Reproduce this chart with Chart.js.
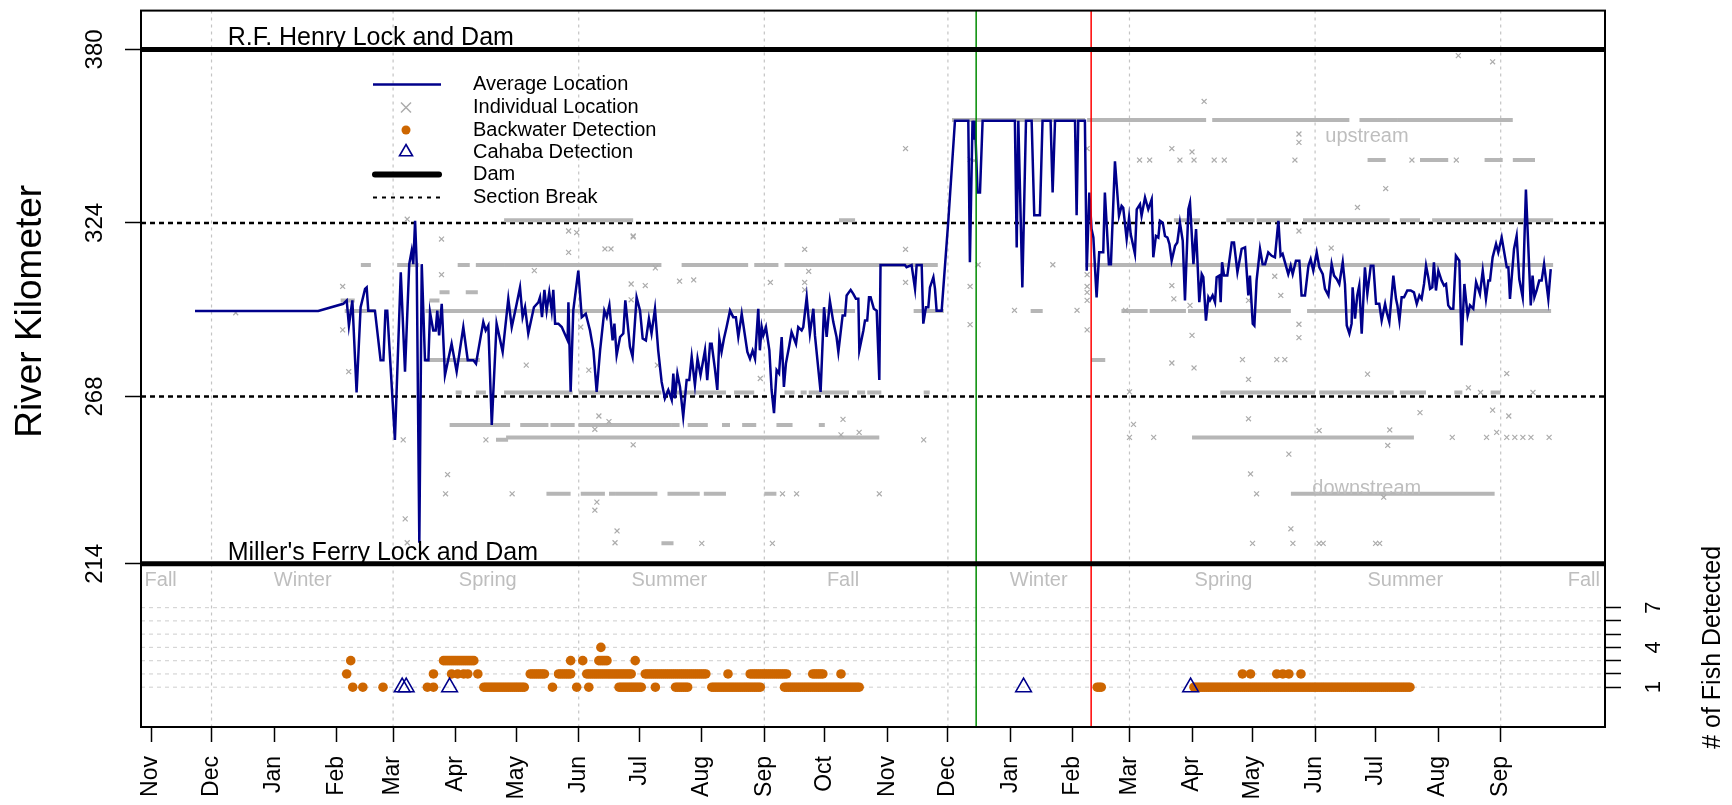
<!DOCTYPE html>
<html>
<head>
<meta charset="utf-8">
<script src="https://cdn.jsdelivr.net/npm/chart.js@4.4.0/dist/chart.umd.min.js"></script>
<style>
  html, body { margin: 0; padding: 0; background: #fff; }
</style>
</head>
<body>
<canvas id="fishChart" width="1732" height="805"></canvas>
<script>
'use strict';

// x values are days since 1 Nov of the first year
const monthTickDays = [0, 30, 61, 92, 120, 151, 181, 212, 242, 273, 304, 334, 365,
  395, 426, 457, 485, 516, 546, 577, 607, 638, 669];
const monthTickLabels = ['Nov', 'Dec', 'Jan', 'Feb', 'Mar', 'Apr', 'May', 'Jun', 'Jul', 'Aug', 'Sep', 'Oct', 'Nov',
  'Dec', 'Jan', 'Feb', 'Mar', 'Apr', 'May', 'Jun', 'Jul', 'Aug', 'Sep'];
const seasonGridDays = [30, 120, 212, 304, 395, 485, 577, 669];
const kmTicks = [214, 268, 324, 380];
const countTicks = [1, 2, 3, 4, 5, 6, 7];
const countLabels = [1, 4, 7];
const damKm = [380, 214];
const damNames = ['R.F. Henry Lock and Dam', "Miller's Ferry Lock and Dam"];
const sectionKm = [324, 268];
const greenLineDay = 409;
const redLineDay = 466;
const seasonNames = ['Fall', 'Winter', 'Spring', 'Summer', 'Fall', 'Winter', 'Spring', 'Summer', 'Fall'];
const seasonDays = [4.8, 75.2, 166.9, 256.9, 343.0, 440.0, 531.6, 621.7, 710.2];

// average daily location [day, km]
const avgLocation = [
  [21.8,295.6],[82.9,295.6],[95.3,297.9],[97.0,299.0],[98.1,290.9],[99.8,299.0],[101.9,269.3],[103.9,296.8],
  [106.1,302.7],[106.9,303.2],[107.7,295.7],[111.0,295.7],[113.8,279.7],[115.2,279.7],[116.2,295.7],[117.1,295.7],
  [120.9,254.0],[123.8,308.1],[125.9,276.0],[128.0,310.7],[129.2,315.0],[130.0,310.7],[130.9,324.7],[131.7,310.7],
  [133.0,220.8],[134.2,310.7],[135.8,279.7],[137.5,279.7],[138.3,295.2],[139.9,289.3],[141.1,289.3],[141.9,295.7],
  [142.8,287.7],[144.1,297.9],[145.7,274.9],[149.0,285.0],[151.5,276.0],[154.8,290.4],[157.0,279.7],[159.8,279.7],
  [161.1,278.6],[163.1,286.1],[164.7,292.0],[165.9,289.3],[167.2,290.9],[168.9,258.8],[171.3,291.5],[174.3,282.4],
  [177.1,299.5],[178.8,290.4],[180.9,296.8],[182.9,303.2],[184.2,293.6],[185.4,296.8],[187.0,288.3],[189.8,296.8],
  [192.0,298.4],[192.8,300.0],[193.8,293.6],[195.0,302.4],[196.1,295.7],[197.4,301.6],[198.6,295.7],[199.4,302.4],
  [200.3,291.5],[201.9,291.5],[203.6,290.4],[206.5,286.1],[206.9,298.4],[208.0,269.5],[209.3,295.7],[211.8,308.6],
  [213.5,293.6],[215.5,294.7],[217.6,289.3],[219.3,282.9],[220.9,269.5],[222.6,282.9],[224.7,295.7],[225.9,293.6],
  [227.2,297.4],[228.8,286.1],[229.7,291.5],[230.8,281.3],[232.5,287.2],[234.1,288.3],[235.1,299.0],[237.4,284.0],
  [238.7,280.8],[240.7,300.0],[242.4,295.7],[243.7,286.7],[245.3,286.1],[246.8,293.1],[248.1,288.3],[249.8,296.3],
  [251.4,282.9],[253.1,272.7],[254.7,267.4],[256.4,270.1],[258.1,266.9],[258.9,275.4],[259.7,267.4],[260.9,275.4],
  [262.2,271.1],[263.8,261.5],[265.5,273.3],[266.8,273.3],[268.0,280.8],[269.6,271.7],[270.9,280.2],[272.4,274.9],
  [274.6,282.9],[275.7,273.3],[277.1,285.0],[277.9,285.0],[279.5,277.0],[280.7,270.1],[281.7,286.7],[282.8,282.4],
  [284.0,286.7],[285.3,290.4],[287.0,295.7],[288.6,293.6],[289.9,293.6],[291.1,287.2],[292.8,294.7],[295.6,282.4],
  [296.9,280.2],[298.2,282.8],[299.4,280.2],[301.0,296.3],[301.8,282.9],[302.7,290.4],[303.5,287.7],[304.8,290.4],
  [306.5,282.9],[307.6,270.1],[308.8,262.6],[310.1,276.5],[311.3,275.4],[312.6,287.2],[313.7,271.1],[314.7,278.6],
  [316.4,284.5],[317.5,288.8],[319.7,285.0],[320.8,290.4],[322.5,289.3],[323.3,290.4],[325.0,300.0],[326.6,288.3],
  [328.3,296.3],[329.1,287.7],[331.9,269.5],[333.6,296.8],[334.9,287.2],[336.5,298.8],[338.2,292.0],[339.8,287.2],
  [340.7,282.4],[342.8,294.1],[344.0,294.1],[344.8,300.6],[346.8,302.4],[348.1,301.1],[349.4,299.5],[350.6,299.5],
  [351.1,282.9],[353.1,289.3],[353.9,292.5],[355.0,292.5],[355.9,300.0],[356.7,300.0],[358.3,296.3],[359.7,295.7],
  [361.0,273.3],[361.6,310.4],[373.7,310.4],[374.5,309.7],[377.0,310.4],[378.7,302.7],[379.5,310.4],[382.0,310.4],
  [382.8,291.5],[384.1,296.8],[385.3,296.8],[386.1,303.2],[387.8,306.5],[388.6,302.7],[389.4,295.7],[391.9,295.7],
  [395.2,324.7],[398.5,357.0],[405.1,357.0],[405.9,311.3],[407.2,357.0],[407.6,350.9],[408.4,357.0],[409.7,333.8],
  [410.9,333.8],[412.2,357.0],[428.2,357.0],[429.1,316.1],[429.9,357.0],[431.9,303.2],[433.7,357.0],[436.5,357.0],
  [437.8,326.5],[440.6,326.5],[441.9,357.0],[445.9,357.0],[446.9,333.8],[448.1,357.0],[458.0,357.0],[458.8,326.5],
  [459.6,357.0],[462.9,357.0],[463.8,308.6],[465.1,333.8],[466.2,322.0],[467.1,319.3],[468.7,300.0],[470.0,314.5],
  [472.0,314.5],[472.8,333.8],[474.8,310.7],[475.8,310.7],[477.8,343.9],[479.8,326.3],[481.1,329.5],[481.9,328.9],
  [483.6,318.8],[484.8,325.7],[485.6,320.4],[487.7,314.0],[488.6,328.4],[490.2,330.0],[491.0,326.3],[492.7,332.2],
  [494.3,328.4],[496.0,331.6],[496.8,312.9],[498.1,319.8],[499.3,319.3],[500.1,324.7],[501.5,324.1],[502.6,319.8],
  [503.8,319.3],[504.8,317.2],[505.9,311.8],[507.6,316.6],[508.7,317.7],[510.0,324.1],[511.4,318.2],[512.5,299.0],
  [514.2,328.4],[515.0,330.5],[516.7,310.7],[518.0,322.0],[519.6,298.4],[520.8,307.5],[521.6,306.5],[522.9,292.5],
  [524.1,300.0],[524.9,299.0],[526.2,300.6],[527.4,298.4],[528.2,306.5],[529.5,307.0],[530.2,298.4],[530.9,311.3],
  [531.9,307.0],[533.5,307.0],[535.7,317.7],[536.8,317.7],[538.5,308.1],[540.6,315.6],[542.3,316.1],[543.9,300.6],
  [544.7,307.0],[546.1,291.5],[546.9,290.9],[548.0,305.4],[549.7,315.6],[551.0,310.7],[552.2,310.7],[553.8,314.5],
  [555.5,313.4],[557.1,312.9],[558.8,324.7],[559.9,313.4],[560.9,314.0],[563.7,307.5],[564.9,310.2],[565.9,307.5],
  [567.5,311.8],[569.2,311.8],[570.3,300.6],[572.0,300.6],[573.7,310.2],[574.8,312.3],[576.1,308.6],[577.8,314.5],
  [579.1,309.7],[580.8,307.5],[581.9,302.7],[583.6,300.6],[585.2,310.7],[586.4,307.0],[587.7,305.9],[589.0,304.3],
  [590.7,311.3],[591.8,304.3],[592.7,290.9],[594.0,288.3],[595.1,291.5],[595.6,303.2],[596.8,293.1],[597.9,300.6],
  [598.9,303.8],[600.1,288.3],[601.7,309.7],[602.9,301.1],[604.6,310.2],[605.9,310.2],[607.2,297.9],[608.8,297.9],
  [610.0,292.5],[611.7,297.9],[612.5,295.2],[613.8,292.0],[615.8,307.0],[617.1,299.5],[617.8,297.4],[618.8,292.5],
  [619.9,300.0],[621.1,300.0],[622.7,302.2],[624.4,302.2],[626.0,301.6],[627.4,297.9],[628.7,300.6],[629.8,299.5],
  [631.0,304.3],[632.0,310.2],[633.1,306.5],[634.0,302.7],[635.1,303.2],[635.9,311.3],[636.9,302.2],[638.1,308.6],
  [639.7,305.4],[640.9,303.8],[641.9,304.3],[643.0,297.4],[644.2,296.3],[645.5,296.3],[646.8,313.4],[648.5,311.8],
  [649.6,284.5],[651.0,304.3],[652.6,294.1],[653.8,297.4],[655.4,296.3],[656.8,304.9],[657.9,302.7],[658.7,301.1],
  [660.1,308.6],[661.7,299.5],[662.9,305.4],[663.7,305.4],[665.0,312.9],[666.7,317.2],[667.8,314.5],[669.5,319.3],
  [672.0,309.7],[672.8,309.7],[673.6,299.5],[675.6,315.6],[676.9,319.8],[678.2,305.9],[679.9,300.0],[681.5,334.8],
  [683.9,297.4],[684.8,307.0],[685.7,300.0],[686.8,302.2],[688.1,305.4],[689.3,305.4],[690.5,310.7],[692.6,299.5],
  [693.8,309.1]
];

// runs of individual detections at one receiver: [km, first day, last day]
const grayBands = [
  [357.2,398,462],[357.2,465,512],[357.2,513,522],[357.2,527,593],[357.2,600,617],[357.2,619,674],
  [344.3,604,611],[344.3,630,642],[344.3,662,669],[344.3,676,685],
  [324.9,176,207],[324.9,209,238],[324.9,342,348],[324.9,508,519],[324.9,534,546],[324.9,549,564],
  [324.9,572,613],[324.9,620,628],[324.9,636,694],
  [310.4,105,108],[310.4,123,132],[310.4,153,157],[310.4,162,174],[310.4,176,252],[310.4,264,295],
  [310.4,300,310],[310.4,315,331],[310.4,332,389],[310.4,464,694],
  [301.6,144,147],[301.6,157,161],[299.0,95,100],[299.0,139,142],
  [295.6,97,110],[295.6,137,348],[295.6,379,392],[295.6,437,441],[295.6,482,493],[295.6,496,512],
  [295.6,515,564],[295.6,574,693],
  [279.8,137,162],[279.8,467,472],
  [269.3,152,153],[269.3,162,165],[269.3,176,208],[269.3,213,249],[269.3,251,252],[269.3,256,284],
  [269.3,290,298],[269.3,315,318],[269.3,323,324],[269.3,327,345],[269.3,351,353],[269.3,356,361],
  [269.3,384,385],[269.3,531,576],[269.3,580,591],[269.3,593,615],[269.3,620,625],[269.3,627,631],
  [269.3,647,649],[269.3,665,668],
  [258.8,149,177],[258.8,184,196],[258.8,199,209],[258.8,213,257],[258.8,259,261],[258.8,267,275],
  [258.8,284,286],[258.8,294,299],[258.8,311,317],[258.8,332,333],
  [254.8,177,360],[254.8,517,625],[254.0,172,176],
  [236.6,197,207],[236.6,214,224],[236.6,228,229],[236.6,231,250],[236.6,257,271],[236.6,275,284],
  [236.6,305,309],[236.6,566,665],
  [220.6,254,258]
];

// scattered individual detections [day, km]
const grayPoints = [
  [42,295],[95,303.5],[95,289.5],[98,276],[127,325.2],[125,254],[126,228.5],[127,220.8],[144,318.8],[144,307.3],
  [147,242.8],[146,236.6],[179,236.6],[190,308.6],[186,278.1],[166,254],[207,321.4],[211,320.9],[207,314.5],
  [225,315.6],[228,315.6],[239,319.5],[238,304.3],[238,299.2],[217,276.5],[213,290.4],[221,233.9],[220,231.3],
  [231,224.6],[230,220.8],[222,261.7],[227,259.9],[220,257.4],[239,252.4],
  [239,319.8],[250,309.5],[245,303.8],[262,305.2],[269,305.6],[251,278.1],[302,273.8],[324,315.5],[326,308.4],
  [324,304.8],[324,302.4],[307,304.8],[374,348],[374,315.5],[374,304.8],[343,260.6],[351,256.4],[342,255.6],
  [383,254],[406,344.5],[406,303.5],[406,291.2],[408,344.1],[410,310.5],[428,295.8],[447,310.5],[459,295.8],
  [464,348],[464,307.3],[464,303.5],[464,301.6],[464,299],[464,289.5],[483,295.8],[273,220.6],[308,220.6],
  [313,236.6],[320,236.6],[361,236.6],
  [522,363.2],[569,352.7],[569,350],[506,348],[516,346.9],[612,335.1],[598,329],[569,321.4],[585,315.9],
  [557,306.8],[560,300.6],[506,303.8],[507,299.5],[515,297.4],[544,299],[516,287.7],[569,291.3],[569,287],
  [506,278.8],[517,277.2],[541,279.9],[558,279.9],[562,279.9],[544,273.5],[603,275.2],[672,275.4],[485,269.5],
  [653,270.8],[544,260.8],[629,262.8],[665,263.6],[673,261.7],[487,259.0],[579,257],[614,257.2],[613,252.2],
  [667,256.4],[564,249.4],[545,243],[548,236.6],[611,235.5],[565,225.3],[546,220.6],[566,220.6],[579,220.6],
  [581,220.6],[607,220.6],[609,220.6],[648,378],[665,376],[485,254.8],[497,254.8],[645,254.8],[662,254.8],
  [672,254.8],[676,254.8],[680,254.8],[684,254.8],[693,254.8],[490,344.3],[495,344.3],[510,344.3],[517,344.3],
  [527,344.3],[532,344.3],[567,344.3],[625,344.3],[647,344.3],[659,269.3],[685,269.3]
];

// backwater detections: runs of consecutive days [count, first, last] and single days [count, day]
const backwaterRuns = [
  [1,165,185],[1,232,243],[1,260,266],[1,278,302],[1,314,351],[1,469,471],[1,517,624],
  [2,188,195],[2,202,208],[2,216,238],[2,245,275],[2,297,315],[2,328,333],
  [3,145,160],[3,222,226]
];
const backwaterSingles = [
  [1,100],[1,105],[1,115],[1,137],[1,140],[1,199],[1,211],[1,217],[1,250],
  [2,97],[2,140],[2,149],[2,152],[2,155],[2,157],[2,162],[2,286],[2,342],
  [3,99],[3,208],[3,214],[3,240],[4,223],
  [2,541],[2,545],[2,558],[2,561],[2,564],[2,570]
];
const cahabaDays = [124.5, 126.5, 148, 432.5, 515.3];
const cahabaCounts = [1, 1, 1, 1, 1];

const FONT = "'Liberation Sans', Arial, Helvetica, sans-serif";
const NAVY = '#00008b';
const ORANGE = '#cd6600';
const GRAY = '#acacac';
const BAND_GRAY = '#b6b6b6';
const LIGHT_TEXT = '#bebebe';

const bandData = [];
grayBands.forEach(([km, a, b]) => {
  bandData.push({x: a, y: km}, {x: b, y: km}, {x: b, y: null});
});
const bwData = [];
backwaterRuns.forEach(([c, a, b]) => {
  for (let d = a; d <= b; d++) bwData.push({x: d, y: c});
});
backwaterSingles.forEach(([c, d]) => bwData.push({x: d, y: c}));

function hLine(ctx, x1, x2, y) {
  ctx.beginPath(); ctx.moveTo(x1, y); ctx.lineTo(x2, y); ctx.stroke();
}
function vLine(ctx, x, y1, y2) {
  ctx.beginPath(); ctx.moveTo(x, y1); ctx.lineTo(x, y2); ctx.stroke();
}
function rotText(ctx, text, x, y, size, color) {
  ctx.save();
  ctx.translate(x, y);
  ctx.rotate(-Math.PI / 2);
  ctx.font = size + 'px ' + FONT;
  ctx.fillStyle = color;
  ctx.textAlign = 'center';
  ctx.textBaseline = 'middle';
  ctx.fillText(text, 0, 0);
  ctx.restore();
}

const riverDecor = {
  id: 'riverDecor',
  beforeDatasetsDraw(chart) {
    const {ctx, chartArea: a, scales: {x, y, y2}} = chart;
    ctx.save();
    ctx.lineWidth = 1.2;
    ctx.strokeStyle = '#c4c4c4';
    ctx.setLineDash([3, 4]);
    seasonGridDays.forEach(d => vLine(ctx, x.getPixelForValue(d), a.top, a.bottom));
    ctx.strokeStyle = '#d6d6d6';
    ctx.setLineDash([4, 4]);
    countTicks.forEach(c => hLine(ctx, a.left, a.right, y2.getPixelForValue(c)));
    ctx.strokeStyle = '#000';
    ctx.lineWidth = 2.5;
    ctx.setLineDash([5, 4]);
    sectionKm.forEach(k => hLine(ctx, a.left, a.right, y.getPixelForValue(k)));
    ctx.restore();
  },
  afterDatasetsDraw(chart) {
    const {ctx, chartArea: a, scales: {x, y, y2}} = chart;
    ctx.save();
    ctx.lineWidth = 1.5;
    ctx.strokeStyle = '#008b00';
    vLine(ctx, x.getPixelForValue(greenLineDay), a.top, a.bottom);
    ctx.strokeStyle = '#ff0000';
    vLine(ctx, x.getPixelForValue(redLineDay), a.top, a.bottom);

    // dams
    ctx.strokeStyle = '#000';
    ctx.lineWidth = 5;
    damKm.forEach(k => hLine(ctx, a.left, a.right, y.getPixelForValue(k)));

    // box
    ctx.lineWidth = 2;
    ctx.strokeRect(a.left, a.top, a.right - a.left, a.bottom - a.top);

    // dam names
    ctx.fillStyle = '#000';
    ctx.font = '25px ' + FONT;
    ctx.textAlign = 'left';
    ctx.textBaseline = 'alphabetic';
    damKm.forEach((k, i) => ctx.fillText(damNames[i], x.getPixelForValue(38), y.getPixelForValue(k) - 4));

    // seasons and direction words
    ctx.fillStyle = LIGHT_TEXT;
    ctx.font = '20px ' + FONT;
    ctx.textAlign = 'center';
    ctx.textBaseline = 'middle';
    seasonNames.forEach((s, i) => ctx.fillText(s, x.getPixelForValue(seasonDays[i]), y.getPixelForValue(208.5)));
    ctx.fillText('upstream', x.getPixelForValue(602.7), y.getPixelForValue(352));
    ctx.fillText('downstream', x.getPixelForValue(602.6), y.getPixelForValue(238.4));

    // legend
    const rows = ['Average Location', 'Individual Location', 'Backwater Detection',
      'Cahaba Detection', 'Dam', 'Section Break'];
    const ly = [84.5, 107.5, 130, 152, 174.5, 197.5];
    const sx = 406, tx = 473;
    ctx.fillStyle = '#000';
    ctx.textAlign = 'left';
    rows.forEach((r, i) => ctx.fillText(r, tx, ly[i]));
    ctx.strokeStyle = NAVY; ctx.lineWidth = 2.5;
    hLine(ctx, 373, 441, ly[0]);
    ctx.strokeStyle = GRAY; ctx.lineWidth = 1.5;
    ctx.beginPath();
    ctx.moveTo(sx - 5, ly[1] - 5); ctx.lineTo(sx + 5, ly[1] + 5);
    ctx.moveTo(sx + 5, ly[1] - 5); ctx.lineTo(sx - 5, ly[1] + 5);
    ctx.stroke();
    ctx.fillStyle = ORANGE;
    ctx.beginPath(); ctx.arc(sx, ly[2], 4.5, 0, Math.PI * 2); ctx.fill();
    ctx.strokeStyle = NAVY; ctx.lineWidth = 1.6;
    const r = 7.5;
    ctx.beginPath();
    ctx.moveTo(sx, ly[3] - r);
    ctx.lineTo(sx + r * 0.866, ly[3] + r / 2);
    ctx.lineTo(sx - r * 0.866, ly[3] + r / 2);
    ctx.closePath(); ctx.stroke();
    ctx.strokeStyle = '#000'; ctx.lineWidth = 6; ctx.lineCap = 'round';
    hLine(ctx, 375, 439, ly[4]);
    ctx.lineCap = 'butt'; ctx.lineWidth = 2; ctx.setLineDash([4, 5]);
    hLine(ctx, 373, 441, ly[5]);
    ctx.setLineDash([]);

    // rotated tick labels and axis titles
    kmTicks.forEach(k => rotText(ctx, String(k), 95, y.getPixelForValue(k), 24, '#000'));
    countLabels.forEach(c => rotText(ctx, String(c), 1654, y2.getPixelForValue(c), 22, '#000'));
    rotText(ctx, 'River Kilometer', 31, y.getPixelForValue(295.5), 37, '#000');
    rotText(ctx, '# of Fish Detected', 1713, y2.getPixelForValue(4), 25, '#000');
    ctx.restore();
  }
};

Chart.defaults.font.family = FONT;

new Chart(document.getElementById('fishChart'), {
  type: 'scatter',
  data: {
    datasets: [
      {
        label: 'Individual Location runs',
        data: bandData,
        showLine: true,
        spanGaps: false,
        borderColor: BAND_GRAY,
        borderWidth: 4,
        borderCapStyle: 'square',
        pointRadius: 0,
        order: 5
      },
      {
        label: 'Individual Location',
        data: grayPoints.map(p => ({x: p[0], y: p[1]})),
        pointStyle: 'crossRot',
        pointRadius: 3.5,
        borderColor: GRAY,
        borderWidth: 1.2,
        order: 4
      },
      {
        label: 'Average Location',
        data: avgLocation.map(p => ({x: p[0], y: p[1]})),
        showLine: true,
        borderColor: NAVY,
        borderWidth: 2.5,
        borderJoinStyle: 'miter',
        pointRadius: 0,
        order: 3
      },
      {
        label: 'Backwater Detection',
        data: bwData,
        yAxisID: 'y2',
        pointStyle: 'circle',
        pointRadius: 4.8,
        backgroundColor: ORANGE,
        borderWidth: 0,
        order: 2
      },
      {
        label: 'Cahaba Detection',
        data: cahabaDays.map((d, i) => ({x: d, y: cahabaCounts[i]})),
        yAxisID: 'y2',
        pointStyle: 'triangle',
        pointRadius: 9,
        backgroundColor: 'rgba(0,0,0,0)',
        borderColor: NAVY,
        borderWidth: 1.6,
        order: 1
      }
    ]
  },
  options: {
    responsive: false,
    animation: false,
    devicePixelRatio: 1,
    layout: { padding: { top: 4, left: 0, right: 0, bottom: 0 } },
    plugins: { legend: { display: false }, tooltip: { enabled: false } },
    scales: {
      x: {
        type: 'linear',
        position: 'bottom',
        min: -4.96,
        max: 720.7,
        afterBuildTicks: s => { s.ticks = monthTickDays.map(v => ({value: v})); },
        afterFit: s => { s.height = 78; },
        ticks: {
          autoSkip: false,
          minRotation: 90,
          maxRotation: 90,
          padding: 14,
          color: '#000',
          font: { size: 23 },
          callback: (v, i) => monthTickLabels[i]
        },
        grid: { drawOnChartArea: false, drawTicks: true, tickLength: 15, tickWidth: 1.5, tickColor: '#000' },
        border: { display: false }
      },
      y: {
        type: 'linear',
        position: 'left',
        min: 161.34,
        max: 392.52,
        afterBuildTicks: s => { s.ticks = kmTicks.map(v => ({value: v})); },
        afterFit: s => { s.width = 141; },
        ticks: { display: false },
        grid: { drawOnChartArea: false, drawTicks: true, tickLength: 16, tickWidth: 1.5, tickColor: '#000' },
        border: { display: false }
      },
      y2: {
        type: 'linear',
        position: 'right',
        min: -2,
        max: 52,
        afterBuildTicks: s => { s.ticks = countTicks.map(v => ({value: v})); },
        afterFit: s => { s.width = 127; },
        ticks: { display: false },
        grid: { drawOnChartArea: false, drawTicks: true, tickLength: 16, tickWidth: 1.5, tickColor: '#000' },
        border: { display: false }
      }
    }
  },
  plugins: [riverDecor]
});
</script>
</body>
</html>
